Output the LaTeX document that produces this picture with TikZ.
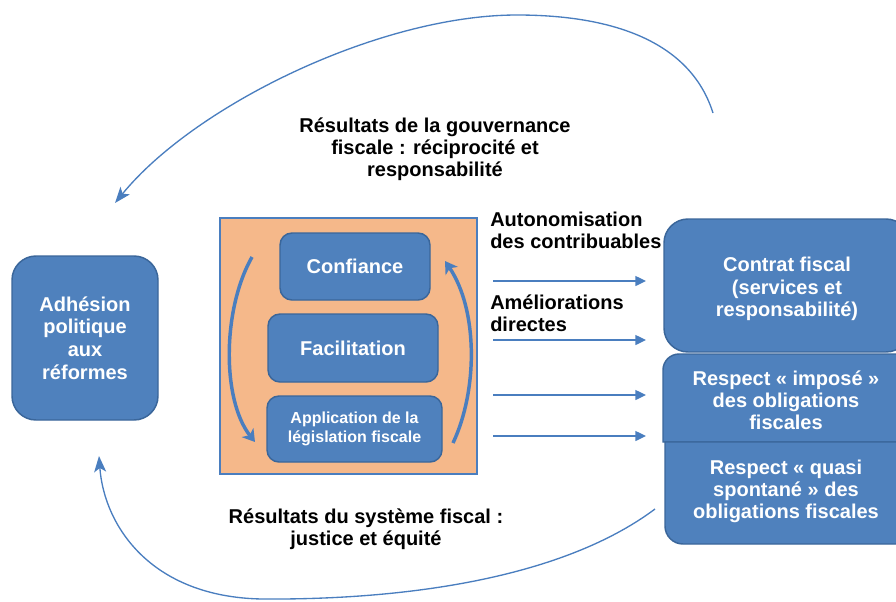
\documentclass[tikz,border=0pt]{standalone}
\usepackage{fontspec}
\setmainfont{Liberation Sans}
\usetikzlibrary{arrows.meta}
\definecolor{boxblue}{HTML}{4F81BD}
\definecolor{boxedge}{HTML}{3A669A}
\definecolor{orangefill}{HTML}{F5B88A}
\definecolor{arrowblue}{HTML}{4A7EBF}
\begin{document}
\begin{tikzpicture}[x=0.75pt,y=-0.75pt,
  bluebox/.style={fill=boxblue, draw=boxedge, line width=1.1pt, rounded corners=14pt,
    text=white, font=\bfseries\fontsize{15}{17}\selectfont, align=center, inner sep=0pt},
  lbl/.style={font=\bfseries\fontsize{15}{16.5}\selectfont, inner sep=0pt},
  flatarrow/.style={draw=arrowblue, line width=1pt, -{Triangle[length=8pt,width=7.5pt]}},
  loop/.style={draw=arrowblue, line width=1pt, -{Stealth[length=12pt,width=9pt,inset=3pt]}},
  innerarrow/.style={draw=arrowblue, line width=2.6pt, -{Stealth[length=9pt,width=11pt,inset=2.5pt]}}]
\useasboundingbox (0,0) rectangle (896,601);
\clip (0,0) rectangle (896,601);

% left box
\node[bluebox, minimum width=146*0.75pt, minimum height=164*0.75pt, rounded corners=18pt] (adh) at (85,338)
  {Adhésion\\politique\\aux\\réformes};

% orange frame
\node[fill=orangefill, draw=arrowblue, line width=0.9pt, minimum width=257*0.75pt, minimum height=256*0.75pt, inner sep=0pt] (frame) at (348.5,346) {};

\node[bluebox, minimum width=150*0.75pt, minimum height=67*0.75pt, rounded corners=9pt] (conf) at (355,266.5) {Confiance};
\node[bluebox, minimum width=170*0.75pt, minimum height=68*0.75pt, rounded corners=9pt] (fac) at (353,348) {Facilitation};
\node[bluebox, minimum width=175*0.75pt, minimum height=66*0.75pt, rounded corners=9pt,
  font=\bfseries\fontsize{12}{14.5}\selectfont] (app) at (354.5,429) {Application de la\\législation fiscale};

% inner arrows
\coordinate (la) at (252,257);
\coordinate (lb) at (255,442);
\coordinate (ra) at (453,443);
\coordinate (rb) at (445,261);
\draw[innerarrow] (la) .. controls (222,310) and (222,400) .. (lb);
\draw[innerarrow] (ra) .. controls (478,390) and (478,310) .. (rb);

% right boxes
\node[bluebox, minimum width=246*0.75pt, minimum height=133*0.75pt, rounded corners=18pt] (contrat) at (787,285.5) {};
\node[text=white, font=\bfseries\fontsize{15}{17}\selectfont, align=center, inner sep=0pt] (contrattxt) at (787,289)
  {Contrat fiscal\\(services et\\responsabilité)};
\path[fill=boxblue, draw=boxedge, line width=1.1pt]
  (663,442) -- (663,370) arc[start angle=180, end angle=270, x radius=16, y radius=16] -- (930,354) -- (930,442) -- cycle;
\path[fill=boxblue, draw=boxedge, line width=1.1pt]
  (665,442) -- (665,526) arc[start angle=180, end angle=90, x radius=18, y radius=18] -- (930,544) -- (930,442) -- cycle;
\node[text=white, font=\bfseries\fontsize{15}{16.5}\selectfont, align=center, inner sep=0pt] (impose) at (786,400)
  {Respect « imposé »\\des obligations\\fiscales};
\node[text=white, font=\bfseries\fontsize{15}{16.5}\selectfont, align=center, inner sep=0pt] (quasi) at (786,491)
  {Respect « quasi\\spontané » des\\obligations fiscales};

% labels
\node[lbl, align=center] (gouv) at (435,149) {Résultats de la gouvernance\\fiscale : réciprocité et\\responsabilité};
\node[lbl, align=center] (sys) at (366,529) {Résultats du système fiscal :\\justice et équité};
\node[lbl, align=left, anchor=west] (auto) at (490,230) {Autonomisation\\des contribuables};
\node[lbl, align=left, anchor=west] (amel) at (490,313) {Améliorations\\directes};

% horizontal arrows
\foreach \y/\n in {281/a,340/b,395/c,436/d}{
  \coordinate (s\n) at (493,\y);
  \coordinate (e\n) at (646,\y);
  \draw[flatarrow] (s\n) -- (e\n);
}

% big loops
\coordinate (t0) at (713,113);
\coordinate (t1) at (115,203);
\draw[loop] (t0) .. controls (690,40) and (610,15) .. (517,15) .. controls (380,15) and (195,105) .. (t1);
\coordinate (b0) at (655,509);
\coordinate (b1) at (99,456);
\draw[loop] (b0) .. controls (560,580) and (400,600) .. (262,599) .. controls (150,597) and (104,525) .. (b1);
\end{tikzpicture}
\end{document}
